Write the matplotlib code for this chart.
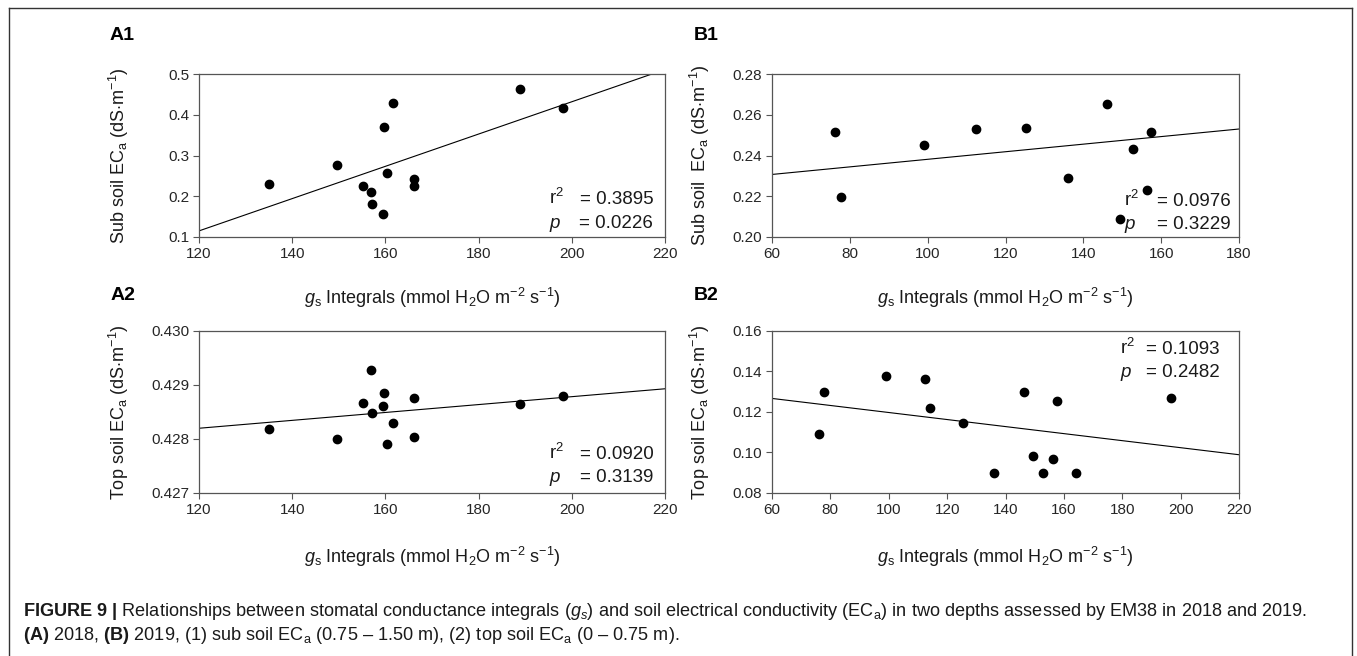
import numpy as np
import matplotlib.pyplot as plt
from matplotlib.lines import Line2D

plt.rcParams['font.family'] = ['Liberation Sans', 'DejaVu Sans']
plt.rcParams['mathtext.fontset'] = 'custom'
plt.rcParams['mathtext.rm'] = 'Liberation Sans'
plt.rcParams['mathtext.it'] = 'Liberation Sans:italic'
plt.rcParams['mathtext.bf'] = 'Liberation Sans:bold'

# 2018 stomatal conductance integrals (shared by A1 and A2)
gs_2018 = [135.0, 149.7, 155.3, 157.0, 157.2, 159.4, 159.7, 160.4, 161.7, 166.2, 166.2, 188.8, 198.2]
sub_2018 = [0.230, 0.277, 0.226, 0.211, 0.180, 0.157, 0.371, 0.256, 0.430, 0.243, 0.225, 0.464, 0.417]
top_2018 = [0.428193, 0.427994, 0.428664, 0.429275, 0.428482, 0.428611, 0.428851,
            0.427902, 0.428303, 0.428752, 0.428033, 0.428641, 0.428789]

# 2019 integrals (B1 has no value for some of them)
gs_2019 = [76.2, 77.8, 99.0, 112.4, 114.0, 125.3, 136.1, 146.2, 149.4, 152.7, 156.4, 157.5, 164.3, 196.6]
sub_2019 = [0.2515, 0.2197, 0.2452, 0.2528, np.nan, 0.2536, 0.2288, 0.2654, 0.2087, 0.2432,
            0.2229, 0.2517, np.nan, np.nan]
top_2019 = [0.1092, 0.1298, 0.1379, 0.1362, 0.1218, 0.1144, 0.0898, 0.1297, 0.0985, 0.0898,
            0.0967, 0.1254, 0.0898, 0.1270]

# regression lines (x ends, y ends)
fit_A1 = ([120, 217.2], [0.115, 0.500])
fit_B1 = ([60, 180], [0.2307, 0.2530])
fit_A2 = ([120, 220], [0.428199, 0.428930])
fit_B2 = ([60, 220], [0.1267, 0.0989])

stats_A1 = ('0.3895', '0.0226')
stats_B1 = ('0.0976', '0.3229')
stats_A2 = ('0.0920', '0.3139')
stats_B2 = ('0.1093', '0.2482')

W, H = 1357, 656
fig = plt.figure(figsize=(W / 100, H / 100), dpi=100)

XLABEL = r'$g_{\rm s}$ Integrals (mmol H$_2$O m$^{-2}$ s$^{-1}$)'
SPINE = '#555555'
TXT = '#1a1a1a'


def box(l, t, r, b):
    return [l / W, 1 - b / H, (r - l) / W, (b - t) / H]


def panel(rect, x, y, fit, xlim, xticks, ylim, yticks, yfmt, ylabel, stats, spos, label, xlab_y):
    ax = fig.add_axes(rect)
    ax.scatter(x, y, s=36, color='black', zorder=3, clip_on=False)
    ax.plot(fit[0], fit[1], color='black', lw=0.8)
    ax.set_xlim(xlim)
    ax.set_ylim(ylim)
    ax.set_xticks(xticks)
    ax.set_yticks(yticks)
    ax.set_yticklabels([yfmt.format(v) for v in yticks])
    ax.tick_params(direction='out', length=4, width=0.8, color=SPINE,
                   labelsize=11, labelcolor='#262626', pad=3, top=False, right=False)
    for s in ax.spines.values():
        s.set_color(SPINE)
        s.set_linewidth(0.9)
    ax.set_ylabel(ylabel, fontsize=13, color=TXT)
    ax.yaxis.set_label_coords(spos[0], 0.5)
    ax.set_xlabel(XLABEL, fontsize=13, color=TXT)
    ax.xaxis.set_label_coords(0.5, xlab_y)
    # r2 / p block
    lx, rx, y1, y2 = spos[1], spos[2], spos[3], spos[4]
    ax.text(lx, y1, r'r$^2$', transform=ax.transAxes, fontsize=13.5, color=TXT, va='baseline')
    ax.text(rx, y1, '= ' + stats[0], transform=ax.transAxes, fontsize=13.5, color=TXT,
            ha='right', va='baseline')
    ax.text(lx, y2, r'$p$', transform=ax.transAxes, fontsize=13.5, color=TXT, va='baseline')
    ax.text(rx, y2, '= ' + stats[1], transform=ax.transAxes, fontsize=13.5, color=TXT,
            ha='right', va='baseline')
    fig.text(label[0] / W, 1 - label[1] / H, label[2], fontsize=14, fontweight='bold',
             ha='center', va='center', color='black')
    return ax


panel(box(199, 74, 665, 237), gs_2018, sub_2018, fit_A1, (120, 220), np.arange(120, 221, 20),
      (0.1, 0.5), np.arange(0.1, 0.51, 0.1), '{:.1f}',
      r'Sub soil EC$_{\rm a}$ (dS$\cdot$m$^{-1}$)', stats_A1,
      (-0.146, 0.752, 0.975, 0.205, 0.057), (122, 36, 'A1'), -0.30)

panel(box(772, 74, 1239, 237), gs_2019, sub_2019, fit_B1, (60, 180), np.arange(60, 181, 20),
      (0.20, 0.28), np.arange(0.20, 0.281, 0.02), '{:.2f}',
      r'Sub soil  EC$_{\rm a}$ (dS$\cdot$m$^{-1}$)', stats_B1,
      (-0.128, 0.754, 0.983, 0.19, 0.052), (706, 35, 'B1'), -0.30)

panel(box(199, 331, 665, 493), gs_2018, top_2018, fit_A2, (120, 220), np.arange(120, 221, 20),
      (0.427, 0.430), np.arange(0.427, 0.43001, 0.001), '{:.3f}',
      r'Top soil EC$_{\rm a}$ (dS$\cdot$m$^{-1}$)', stats_A2,
      (-0.146, 0.752, 0.975, 0.21, 0.065), (123, 295, 'A2'), -0.32)

panel(box(772, 331, 1239, 493), gs_2019, top_2019, fit_B2, (60, 220), np.arange(60, 221, 20),
      (0.08, 0.16), np.arange(0.08, 0.161, 0.02), '{:.2f}',
      r'Top soil EC$_{\rm a}$ (dS$\cdot$m$^{-1}$)', stats_B2,
      (-0.128, 0.745, 0.959, 0.86, 0.715), (706, 295, 'B2'), -0.32)

# frame around figure + caption
frame = dict(color='#333333', lw=1.0, transform=fig.transFigure)
fig.add_artist(Line2D([9 / W, 9 / W], [0, 1 - 8 / H], **frame))
fig.add_artist(Line2D([9 / W, 1352 / W], [1 - 8 / H, 1 - 8 / H], **frame))
fig.add_artist(Line2D([1352 / W, 1352 / W], [0, 1 - 8 / H], **frame))

cap1 = (r'$\mathbf{FIGURE\ 9\ |}$ Relationships between stomatal conductance integrals ($g_{s}$) '
        r'and soil electrical conductivity (EC$_{\rm a}$) in two depths assessed by EM38 in 2018 and 2019.')
cap2 = (r'$\mathbf{(A)}$ 2018, $\mathbf{(B)}$ 2019, (1) sub soil EC$_{\rm a}$ (0.75 – 1.50 m), '
        r'(2) top soil EC$_{\rm a}$ (0 – 0.75 m).')
fig.text(23 / W, 1 - 611 / H, cap1, fontsize=13.1, color=TXT, va='center')
fig.text(23 / W, 1 - 635 / H, cap2, fontsize=13.1, color=TXT, va='center')

fig.savefig('out.png', dpi=100)
